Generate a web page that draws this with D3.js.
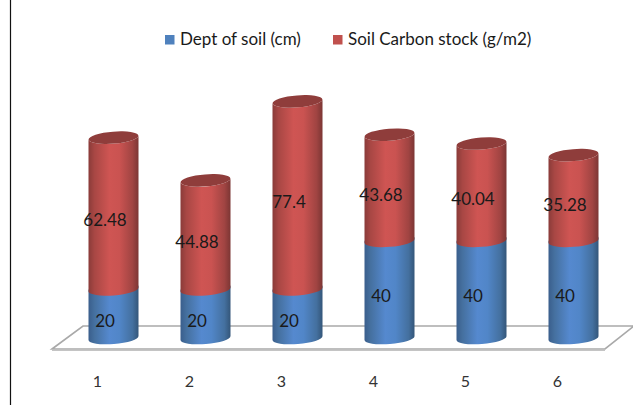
<!DOCTYPE html>
<html><head><meta charset="utf-8">
<script src="https://cdn.jsdelivr.net/npm/d3@7"></script>
<style>html,body{margin:0;padding:0;background:#fff}svg{display:block}text{font-family:Lato,"Open Sans",sans-serif;fill:#1a1a1a}</style>
</head><body><div id="c"></div>
<script>
const categories = ["1","2","3","4","5","6"];
const depth = [20,20,20,40,40,40];
const carbon = [62.48,44.88,77.4,43.68,40.04,35.28];
const seriesNames = ["Dept of soil (cm)","Soil Carbon stock (g/m2)"];
const W=633,H=405;
const svg=d3.select("#c").append("svg").attr("width",W).attr("height",H);
const x=d3.scalePoint().domain(categories).range([113.5,573.5]);
const y=d3.scaleLinear().domain([0,100]).range([340,97]);
const rx=25, ry=6, rot=-4.5, tilt=rx*Math.sin(-rot*Math.PI/180)*1.0;
const defs=svg.append("defs");
function grad(id,stops){
  const g=defs.append("linearGradient").attr("id",id).attr("x1",0).attr("x2",1).attr("y1",0).attr("y2",0);
  stops.forEach(([o,c])=>g.append("stop").attr("offset",o).attr("stop-color",c));
}
grad("gb",[[0,"#3a5e8c"],[.12,"#45709f"],[.42,"#5589cf"],[.62,"#5186c8"],[.88,"#44709f"],[1,"#345679"]]);
grad("gr",[[0,"#8a3b39"],[.12,"#a84744"],[.42,"#cf5553"],[.62,"#ca5351"],[.88,"#a04442"],[1,"#7c3634"]]);
// floor
const fl=svg.append("g");
fl.append("path").attr("fill","#fff").attr("stroke","#a9a9a9").attr("stroke-width",1.6)
  .attr("d",d3.line()([[52,349],[83,326],[634,326],[605,349]])+"Z");
fl.append("path").attr("stroke","#c4c4c4").attr("stroke-width",1).attr("d","M52,350.5H605");
// left rule
svg.append("line").attr("x1",10.5).attr("x2",10.5).attr("y1",0).attr("y2",H).attr("stroke","#111").attr("stroke-width",1.2);
// segment: side wall between value v0 and v1 with front-bulging rims
function wall(cx,v0,v1){
  const yb=y(v0), yt=y(v1);
  const arc=(ex,ey,sw)=>`A${rx},${ry} ${rot} 0 ${sw} ${ex},${ey}`;
  return `M${cx-rx},${yt}L${cx-rx},${yb}`+arc(cx+rx,yb-tilt*2,0)+`L${cx+rx},${yt-tilt*2}`+arc(cx-rx,yt,1)+"Z";
}
const g=svg.append("g");
categories.forEach((c,i)=>{
  const cx=x(c), a=depth[i], b=a+carbon[i];
  g.append("path").attr("d",wall(cx,0,a+1)).attr("fill","url(#gb)");
  g.append("path").attr("d",wall(cx,a,b)).attr("fill","url(#gr)");
  g.append("ellipse").attr("cx",cx).attr("cy",y(b)-tilt).attr("rx",rx).attr("ry",ry)
    .attr("transform",`rotate(${rot} ${cx} ${y(b)-tilt})`).attr("fill","#8f3d3b");
});
// data labels
const lab=svg.append("g").attr("font-size",17).attr("text-anchor","middle");
categories.forEach((c,i)=>{
  const cx=x(c)-8.5;
  lab.append("text").attr("x",cx).attr("y",y(depth[i]/2)+11).text(depth[i]);
  lab.append("text").attr("x",cx).attr("y",y(depth[i]+carbon[i]/2)+11).text(carbon[i]);
});
// category axis
const ax=svg.append("g").attr("transform","translate(-16.5,378)")
  .call(d3.axisBottom(x).tickSize(0).tickPadding(0));
ax.select(".domain").remove();
ax.selectAll("text").attr("font-size",16).attr("font-family","Lato").attr("dy","0.55em").style("fill","#333");
// legend
const legX=[165,333], colors=["#4f81bd","#c0504d"];
seriesNames.forEach((n,i)=>{
  svg.append("rect").attr("x",legX[i]).attr("y",35).attr("width",9.5).attr("height",9.5).attr("fill",colors[i]);
  svg.append("text").attr("x",legX[i]+15).attr("y",44.5).attr("font-size",17).text(n);
});
</script></body></html>
